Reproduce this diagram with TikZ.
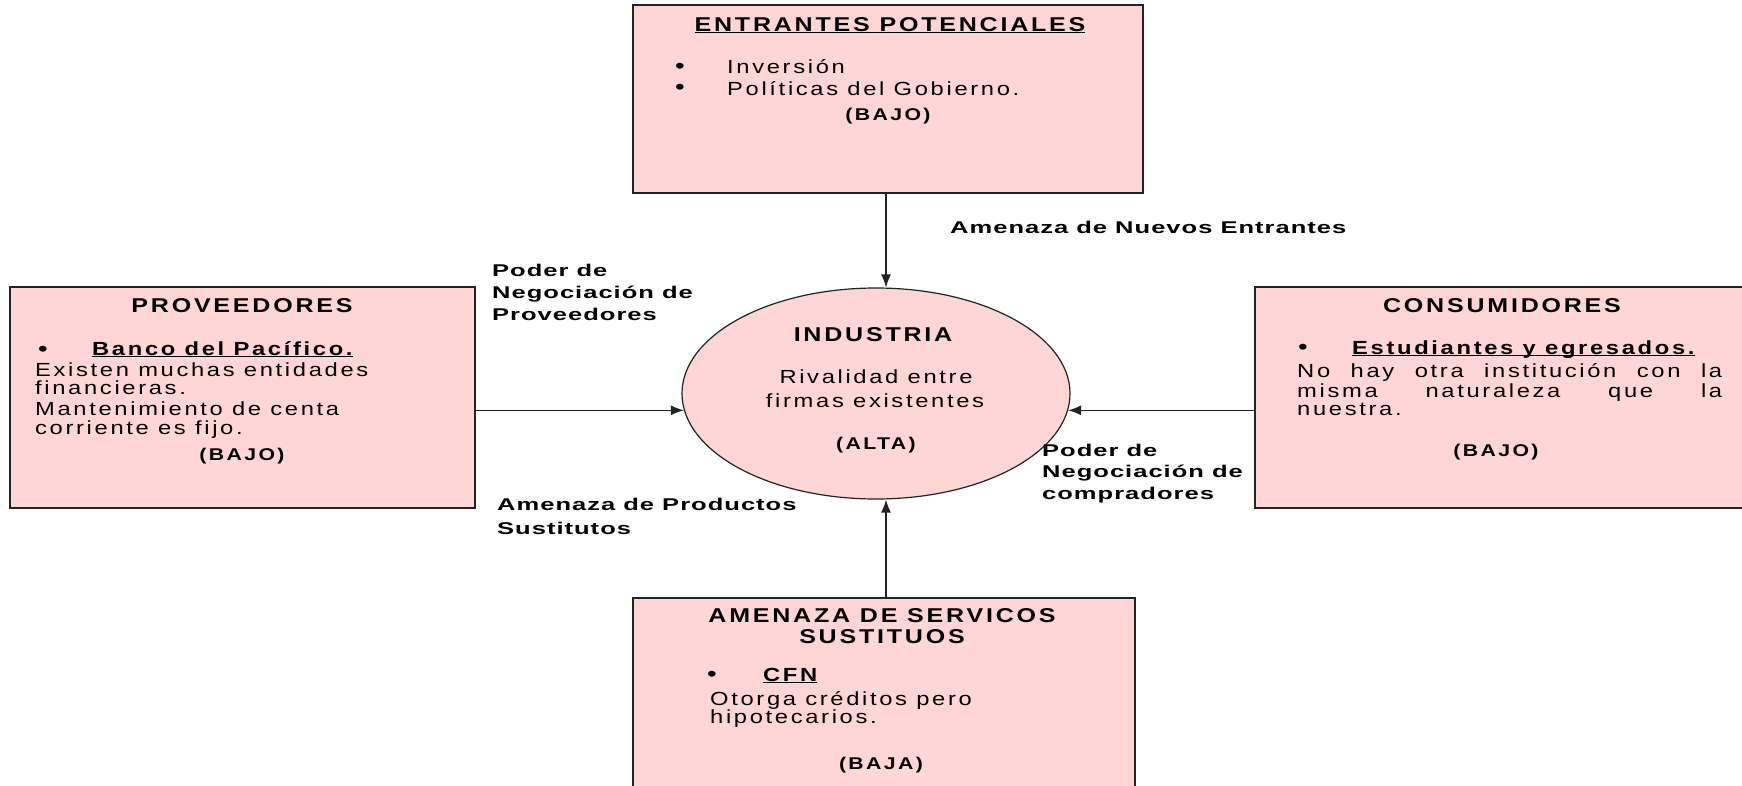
\documentclass[tikz,border=0pt]{standalone}
\usepackage{fontspec}
\setmainfont{Liberation Sans}[FakeStretch=1.25,LetterSpace=14]
\newfontfamily\lblfont{Liberation Sans}[FakeStretch=1.5,LetterSpace=6]
\usetikzlibrary{shapes.geometric,arrows.meta}
\definecolor{boxpink}{RGB}{255,214,214}
\definecolor{edgecol}{RGB}{35,35,35}
\newcommand\ulbox[1]{\setbox0\hbox{#1}\rlap{\rule[-2.2pt]{\wd0}{1.5pt}}\box0}
\tikzset{
  forcebox/.style={draw=edgecol,line width=1.4pt,fill=boxpink,rectangle,inner sep=0pt},
  ttl/.style={font=\fontsize{20}{22}\selectfont\bfseries,inner sep=0pt,anchor=base},
  bodytxt/.style={font=\fontsize{19}{20}\selectfont,inner sep=0pt,anchor=base west},
  ctrtxt/.style={font=\fontsize{19}{20}\selectfont,inner sep=0pt,anchor=base},
  bultxt/.style={font=\fontsize{22}{22}\selectfont,inner sep=0pt,anchor=center},
  boldtxt/.style={font=\fontsize{19}{20}\selectfont\bfseries,inner sep=0pt,anchor=base west},
  level/.style={font=\fontsize{17}{20}\selectfont\bfseries,inner sep=0pt,anchor=base},
  lbl/.style={font=\fontsize{17}{20}\lblfont\bfseries,inner sep=0pt,anchor=base west},
  arr/.style={draw=edgecol,line width=1.3pt,-{Latex[length=13pt,width=10pt]}},
}
\begin{document}
\begin{tikzpicture}[x=1pt,y=-1pt]
\useasboundingbox (0,0) rectangle (1742,785);
% boxes
\node[forcebox,minimum width=510pt,minimum height=188pt] (tb) at (888,99) {};
\node[forcebox,minimum width=465pt,minimum height=221pt] (lb) at (242.5,397.5) {};
\node[forcebox,minimum width=497pt,minimum height=221pt] (rb) at (1503.5,397.5) {};
\node[forcebox,minimum width=502pt,minimum height=194pt] (bb) at (884,695) {};
\node[draw=edgecol,line width=1.2pt,fill=boxpink,ellipse,minimum width=388pt,minimum height=211pt,inner sep=0pt] (ind) at (876,393.5) {};

% top box content
\node[ttl] (tbt) at (890,31) {\ulbox{ENTRANTES POTENCIALES}};
\node[bultxt] (tbb1) at (680,68) {•};
\node[bultxt] (tbb2) at (680,89) {•};
\node[bodytxt] (tbl1) at (727,73) {Inversión};
\node[bodytxt] (tbl2) at (727,95) {Políticas del Gobierno.};
\node[level] (tblv) at (888,120) {(BAJO)};

% left box content
\node[ttl] (lbt) at (242,312) {PROVEEDORES};
\node[bultxt] (lbb) at (43,351) {•};
\node[boldtxt] (lbh) at (92,355) {\ulbox{Banco del Pacífico.}};
\node[bodytxt] (lbl1) at (35,376) {Existen muchas entidades};
\node[bodytxt] (lbl2) at (35,394.5) {financieras.};
\node[bodytxt] (lbl3) at (35,415) {Mantenimiento de centa};
\node[bodytxt] (lbl4) at (35,434) {corriente es fijo.};
\node[level] (lblv) at (242,460) {(BAJO)};

% right box content
\node[ttl] (rbt) at (1502,312) {CONSUMIDORES};
\node[bultxt] (rbb) at (1303,349) {•};
\node[boldtxt] (rbh) at (1352,354) {\ulbox{Estudiantes y egresados.}};
\node[bodytxt] (rbl1) at (1297,377) {\makebox[425pt][s]{No hay otra institución con la}};
\node[bodytxt] (rbl2) at (1297,397) {\makebox[425pt][s]{misma naturaleza que la}};
\node[bodytxt] (rbl3) at (1297,415.5) {nuestra.};
\node[level] (rblv) at (1496,456) {(BAJO)};

% bottom box content
\node[ttl] (bbt1) at (882,622) {AMENAZA DE SERVICOS};
\node[ttl] (bbt2) at (882,643) {SUSTITUOS};
\node[bultxt] (bbb) at (712,676) {•};
\node[boldtxt] (bbh) at (763,681) {\ulbox{CFN}};
\node[bodytxt] (bbl1) at (710,705) {Otorga créditos pero};
\node[bodytxt] (bbl2) at (710,723.5) {hipotecarios.};
\node[level] (bblv) at (881,769) {(BAJA)};

% ellipse content
\node[ttl] (indt) at (873,341) {INDUSTRIA};
\node[ctrtxt] (indl1) at (876,383) {Rivalidad entre};
\node[ctrtxt] (indl2) at (875,407) {firmas existentes};
\node[level] (indv) at (876,449) {(ALTA)};

% connector labels
\node[lbl] (l1) at (950,233) {Amenaza de Nuevos Entrantes};
\node[lbl] (l2a) at (492,276) {Poder de};
\node[lbl] (l2b) at (492,298) {Negociación de};
\node[lbl] (l2c) at (492,320.5) {Proveedores};
\node[lbl] (l3a) at (497,510) {Amenaza de Productos};
\node[lbl] (l3b) at (497,534.5) {Sustitutos};
\node[lbl] (l4a) at (1042,456) {Poder de};
\node[lbl] (l4b) at (1042,477.5) {Negociación de};
\node[lbl] (l4c) at (1042,499) {compradores};

% connectors
\coordinate (vx) at (886,0);
\draw[arr] (tb.south -| vx) -- (ind.north -| vx);
\draw[arr] (bb.north -| vx) -- (ind.south -| vx);
\draw[arr] (lb.east |- ind.185.7) -- (ind.185.7);
\draw[arr] (rb.west |- ind.-5.7) -- (ind.-5.7);
\end{tikzpicture}
\end{document}
